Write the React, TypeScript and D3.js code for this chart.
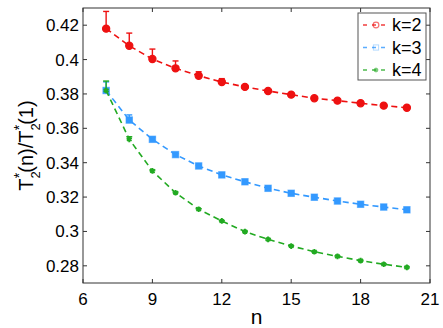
import React from "react";
import * as d3 from "d3";

// n values shared by all three series
const nValues = [7, 8, 9, 10, 11, 12, 13, 14, 15, 16, 17, 18, 19, 20];

const k2 = [0.418, 0.408, 0.4003, 0.3949, 0.3906, 0.3869, 0.3841, 0.3817, 0.3796, 0.3775, 0.3761, 0.3746, 0.3732, 0.372];
const k2err = [0.010, 0.0074, 0.0058, 0.0043, 0.0023, 0.002, 0.001, 0.0006, 0.0005, 0.0004, 0.0004, 0.0003, 0.0003, 0.0003];

const k3 = [0.382, 0.3648, 0.3536, 0.3447, 0.3381, 0.3329, 0.3289, 0.3251, 0.3222, 0.3199, 0.3177, 0.3158, 0.3142, 0.3126];
const k3err = [0.005, 0.003, 0.0012, 0.0006, 0.0004, 0.0003, 0.0003, 0.0002, 0.0002, 0.0002, 0.0002, 0.0002, 0.0002, 0.0002];

const k4 = [0.382, 0.3536, 0.3352, 0.3225, 0.3129, 0.3061, 0.2999, 0.2954, 0.2915, 0.2882, 0.2855, 0.283, 0.2809, 0.2791];
const k4err = [0.0055, 0.0015, 0.0006, 0.0004, 0.0003, 0.0002, 0.0002, 0.0002, 0.0002, 0.0001, 0.0001, 0.0001, 0.0001, 0.0001];

const xTicks = [6, 9, 12, 15, 18, 21];
const yTicks = [0.28, 0.3, 0.32, 0.34, 0.36, 0.38, 0.4, 0.42];
const legendLabels = ["k=2", "k=3", "k=4"];

const W = 443, H = 328;
const margin = { top: 8, right: 13, bottom: 45, left: 83 };
const font = "'Liberation Sans', Arial, sans-serif";

const series = [
  { name: legendLabels[0], vals: k2, err: k2err, color: "#ee1111", shape: "circle" },
  { name: legendLabels[1], vals: k3, err: k3err, color: "#3399ff", shape: "square" },
  { name: legendLabels[2], vals: k4, err: k4err, color: "#22aa22", shape: "star" },
];

function Marker({ shape, x, y, color, scale = 1, light = false }: any) {
  if (shape === "circle") {
    return <circle cx={x} cy={y} r={3.6 * scale} fill={light ? "none" : color} stroke={color} strokeWidth={1.2} opacity={light ? 0.6 : 1} />;
  }
  if (shape === "square") {
    const s = 6.5 * scale;
    return <rect x={x - s / 2} y={y - s / 2} width={s} height={s} fill={light ? "none" : color} stroke={color} strokeOpacity={0.6} strokeWidth={1} opacity={light ? 0.6 : 1} />;
  }
  const p = d3.symbol().type(d3.symbolAsterisk).size(22 * scale * scale)();
  return <path d={p || ""} transform={`translate(${x},${y})`} fill={color} stroke={color} strokeWidth={2} opacity={light ? 0.6 : 1} />;
}

export default function App() {
  const x = d3.scaleLinear().domain([6, 21]).range([margin.left, W - margin.right]);
  const y = d3.scaleLinear().domain([0.27, 0.43]).range([H - margin.bottom, margin.top]);
  const line = d3.line<number>().x((_, i) => x(nValues[i])).y((d) => y(d));
  const axisColor = "#333";
  const x0 = x.range()[0], x1 = x.range()[1];
  const y0 = y.range()[0], y1 = y.range()[1];

  return (
    <svg width={W} height={H} style={{ position: "absolute", left: 0, top: 0, background: "#fff" }} fontFamily={font}>
      {/* series */}
      {series.map((s) => (
        <g key={s.name}>
          <path d={line(s.vals) || ""} fill="none" stroke={s.color} strokeWidth={1.6} strokeDasharray="6,4" />
          {s.vals.map((v, i) => {
            const cx = x(nValues[i]);
            const top = y(v + s.err[i]);
            return (
              <g key={i}>
                <line x1={cx} x2={cx} y1={y(v)} y2={top} stroke={s.color} strokeWidth={1.4} />
                <line x1={cx - 3} x2={cx + 3} y1={top} y2={top} stroke={s.color} strokeWidth={1.4} />
                <Marker shape={s.shape} x={cx} y={y(v)} color={s.color} />
              </g>
            );
          })}
        </g>
      ))}

      {/* axes box */}
      <rect x={x0} y={y1} width={x1 - x0} height={y0 - y1} fill="none" stroke={axisColor} strokeWidth={1} />
      {xTicks.map((t) => (
        <g key={t}>
          <line x1={x(t)} x2={x(t)} y1={y0} y2={y0 - 4} stroke={axisColor} />
          <line x1={x(t)} x2={x(t)} y1={y1} y2={y1 + 4} stroke={axisColor} />
          <text x={x(t)} y={y0 + 22} textAnchor="middle" fontSize={17} fill="#000">{t}</text>
        </g>
      ))}
      {yTicks.map((t) => (
        <g key={t}>
          <line x1={x0} x2={x0 + 4} y1={y(t)} y2={y(t)} stroke={axisColor} />
          <line x1={x1} x2={x1 - 4} y1={y(t)} y2={y(t)} stroke={axisColor} />
          <text x={x0 - 4} y={y(t)} dy="0.35em" textAnchor="end" fontSize={17} fill="#000">{d3.format("")(t)}</text>
        </g>
      ))}

      {/* axis labels */}
      <text x={(x0 + x1) / 2} y={y0 + 41} textAnchor="middle" fontSize={21} fill="#000">n</text>
      <text transform={`translate(33,${(y0 + y1) / 2}) rotate(-90)`} textAnchor="middle" fontSize={20} fill="#000">
        T<tspan fontSize={13} dy={7}>2</tspan><tspan fontSize={14} dx={-7} dy={-16}>*</tspan><tspan dy={9}>(n)/T</tspan><tspan fontSize={13} dy={7}>2</tspan><tspan fontSize={14} dx={-7} dy={-16}>*</tspan><tspan dy={9}>(1)</tspan>
      </text>

      {/* legend */}
      <g>
        <rect x={358} y={13} width={68} height={67} fill="#fff" stroke="#555" strokeWidth={1} />
        {series.map((s, i) => {
          const ly = 25 + i * 22.5;
          return (
            <g key={s.name}>
              <line x1={363} x2={389} y1={ly} y2={ly} stroke={s.color} strokeWidth={1.4} strokeDasharray="4,5" opacity={0.8} />
              <Marker shape={s.shape} x={376} y={ly} color={s.color} scale={0.8} light />
              <text x={392} y={ly} dy="0.36em" fontSize={18} fill="#000">{s.name}</text>
            </g>
          );
        })}
      </g>
    </svg>
  );
}
